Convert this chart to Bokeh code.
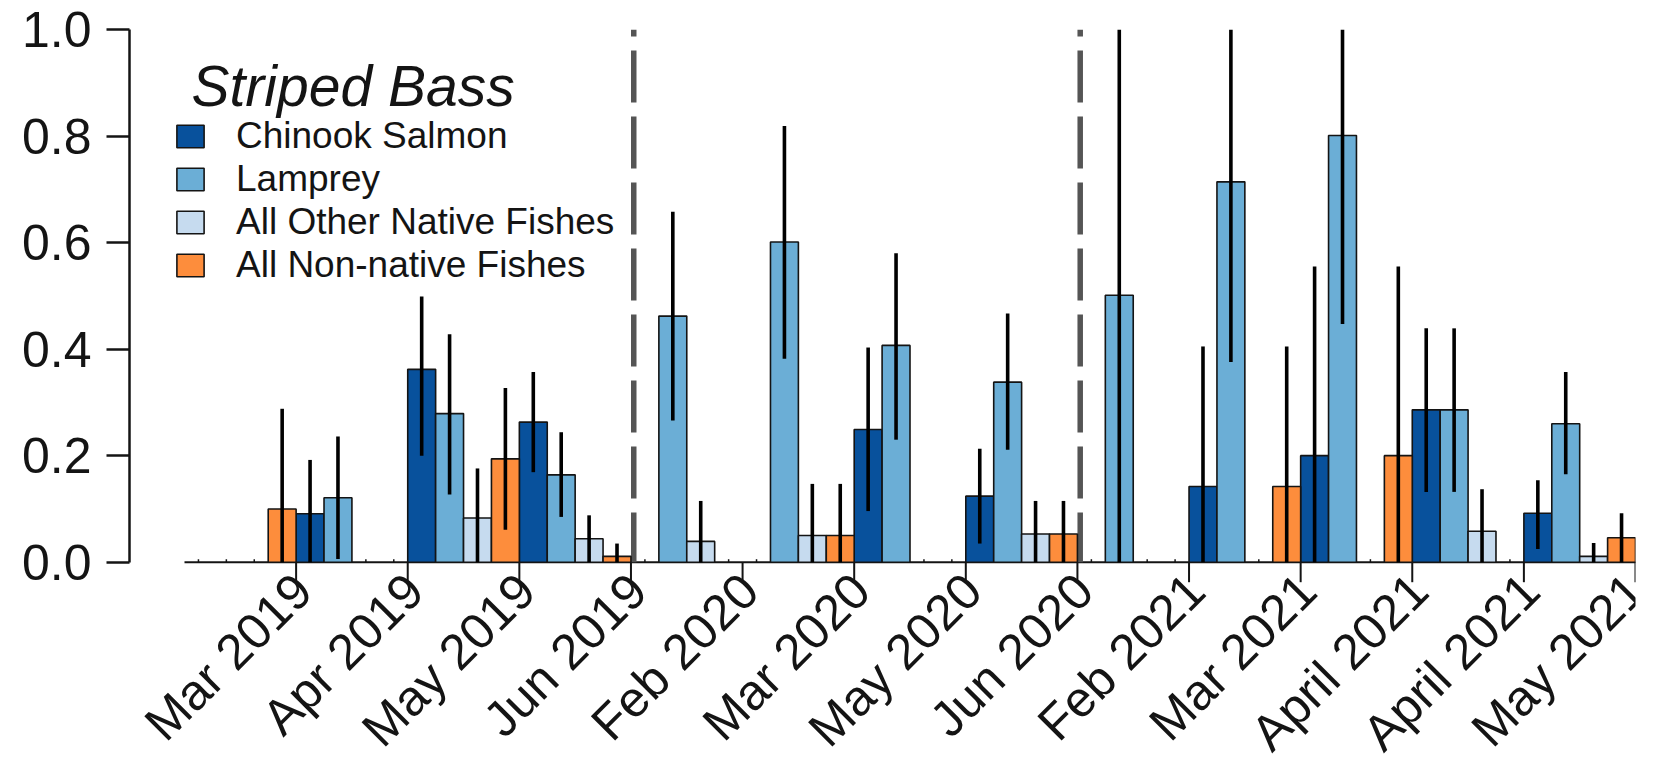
import math
from bokeh.plotting import figure
from bokeh.models import (Range1d, LinearAxis, FixedTicker, ColumnDataSource,
                          Label, Legend, LegendItem, PrintfTickFormatter)
from bokeh.core.properties import value
from bokeh.embed import file_html
from bokeh.resources import INLINE

# ---------------- data ----------------
months = ["Mar 2019", "Apr 2019", "May 2019", "Jun 2019", "Feb 2020", "Mar 2020",
          "May 2020", "Jun 2020", "Feb 2021", "Mar 2021", "April 2021", "April 2021", "May 2021"]
series = ["Chinook Salmon", "Lamprey", "All Other Native Fishes", "All Non-native Fishes"]

chinook    = [0, 0.091, 0.362, 0.263, 0, 0, 0.249, 0.124, 0, 0.142, 0.200, 0.286, 0.092]
chinook_lo = [0, 0.000, 0.200, 0.169, 0, 0, 0.096, 0.035, 0, 0.000, 0.000, 0.132, 0.025]
chinook_hi = [0, 0.192, 0.499, 0.357, 0, 0, 0.403, 0.213, 0, 0.405, 0.555, 0.439, 0.154]

lamprey    = [0, 0.121, 0.279, 0.164, 0.462, 0.601, 0.407, 0.338, 0.501, 0.714, 0.801, 0.286, 0.260]
lamprey_lo = [0, 0.006, 0.127, 0.085, 0.266, 0.382, 0.230, 0.211, 0.000, 0.376, 0.447, 0.132, 0.165]
lamprey_hi = [0, 0.236, 0.428, 0.244, 0.658, 0.819, 0.580, 0.467, 1.000, 1.000, 1.000, 0.439, 0.357]

other      = [0, 0, 0.083, 0.044, 0.039, 0.050, 0, 0.053, 0, 0, 0, 0.058, 0.011]
other_lo   = [0, 0, 0.000, 0.000, 0.000, 0.000, 0, 0.000, 0, 0, 0, 0.000, 0.000]
other_hi   = [0, 0, 0.176, 0.088, 0.115, 0.147, 0, 0.115, 0, 0, 0, 0.137, 0.036]

nonnative    = [0.100, 0, 0.194, 0.011, 0, 0.050, 0, 0.053, 0, 0.142, 0.200, 0, 0.046]
nonnative_lo = [0.000, 0, 0.061, 0.000, 0, 0.000, 0, 0.000, 0, 0.000, 0.000, 0, 0.000]
nonnative_hi = [0.288, 0, 0.327, 0.035, 0, 0.147, 0, 0.115, 0, 0.405, 0.555, 0, 0.092]

y_ticks = [0.0, 0.2, 0.4, 0.6, 0.8, 1.0]
year_break_after = [3, 7]          # dashed dividers after Jun 2019 and Jun 2020

# ---------------- style / layout ----------------
colors = ["#08519c", "#6baed6", "#c6dbef", "#fd8d3c"]
FONT = "Liberation Sans"
INK = "#141414"
n_groups = len(months)
n_series = len(series)
slots = n_groups * n_series

W, H = 1657, 762
frame_left, frame_right, frame_top = 129, 1635, 29
px_per_unit = 532.7                       # pixels for y = 0 .. 1
y_min = -(H - frame_top - px_per_unit) / px_per_unit
px_per_slot = 1451 / slots
x_min = -(184 - frame_left) / px_per_slot

p = figure(width=W, height=H, x_range=Range1d(x_min, slots), y_range=Range1d(y_min, 1.0),
           output_backend="svg", toolbar_location=None, x_axis_type=None, y_axis_type=None,
           min_border=0, min_border_left=frame_left, min_border_right=W - frame_right,
           min_border_top=frame_top, min_border_bottom=0)
p.outline_line_color = None
p.background_fill_color = "white"
p.border_fill_color = "white"

# y axis
yax = LinearAxis(ticker=FixedTicker(ticks=y_ticks, minor_ticks=[]), bounds=(0, 1),
                 formatter=PrintfTickFormatter(format="%.1f"))
yax.axis_line_width = 2.5
yax.axis_line_color = INK
yax.major_tick_line_width = 2.5
yax.major_tick_line_color = INK
yax.major_tick_out = 23
yax.major_tick_in = 0
yax.minor_tick_out = 0
yax.minor_tick_in = 0
yax.major_label_standoff = 15
yax.major_label_text_font = FONT
yax.major_label_text_font_size = "50px"
yax.major_label_text_color = INK
p.add_layout(yax, "left")

# x axis: base line, ticks at the end of every sampling group, rotated labels
tick_pos = [n_series * (k + 1) for k in range(n_groups)]
tick_len = 20 / px_per_unit
p.segment(x0=[0], y0=[0], x1=[slots], y1=[0], line_color=INK, line_width=2)
p.segment(x0=tick_pos, y0=[0] * n_groups, x1=tick_pos, y1=[-tick_len] * n_groups,
          line_color=INK, line_width=2)

lab_size = 50
lab_angle = math.pi / 4
half_box = 0.56 * lab_size * math.sin(lab_angle)          # keeps the last label inside the page
x_limit = x_min + (W - frame_left - half_box - 2) / px_per_slot
lab_x = [min(t + 7 / px_per_slot, x_limit) for t in tick_pos]
lab_y = [-20 / px_per_unit] * n_groups
p.text(x=lab_x, y=lab_y, text=months, angle=lab_angle, text_align="right",
       text_baseline="middle", text_font=value(FONT), text_font_size=value(f"{lab_size}px"),
       text_color=INK)

# dashed year dividers
for g in year_break_after:
    xb = n_series * (g + 1) + 0.1
    p.segment(x0=[xb], y0=[1.0], x1=[xb], y1=[0.0], line_color="#555555", line_width=5.5,
              line_dash="52 14", line_dash_offset=45)

# bars
vals = [chinook, lamprey, other, nonnative]
los = [chinook_lo, lamprey_lo, other_lo, nonnative_lo]
his = [chinook_hi, lamprey_hi, other_hi, nonnative_hi]
bar_renderers = []
err_sources = []
zx = []
for j in range(n_series):
    xs, tops, lo, hi = [], [], [], []
    for k in range(n_groups):
        xc = n_series * k + j + 0.5
        if vals[j][k] > 0:
            xs.append(xc); tops.append(vals[j][k]); lo.append(los[j][k]); hi.append(his[j][k])
        else:
            zx.append(xc)
    src = ColumnDataSource(dict(x=xs, top=tops, lo=lo, hi=hi))
    r = p.vbar(x="x", top="top", bottom=0, width=1.0, source=src, fill_color=colors[j],
               line_color=INK, line_width=1.6)
    bar_renderers.append(r)
    err_sources.append(src)

for src in err_sources:
    p.segment(x0="x", y0="lo", x1="x", y1="hi", source=src, line_color="black", line_width=3.6)

# tiny marks at empty slots
p.segment(x0=zx, y0=[0] * len(zx), x1=zx, y1=[3 / px_per_unit] * len(zx),
          line_color=INK, line_width=1.5)

# legend
legend = Legend(items=[LegendItem(label=series[j], renderers=[bar_renderers[j]]) for j in range(n_series)],
                location=(44, 476), padding=0, margin=0, spacing=0, glyph_width=34, glyph_height=28,
                label_standoff=29, label_height=43, label_text_font=FONT, label_text_font_size="37px",
                label_text_color=INK, background_fill_alpha=0, border_line_alpha=0)
p.add_layout(legend)

p.add_layout(Label(x=0.25, y=0.894, text="Striped Bass", text_font=FONT, text_font_style="italic",
                   text_font_size="57px", text_align="left", text_baseline="alphabetic",
                   text_color=INK))

open("out.html", "w").write(file_html(p, INLINE))
